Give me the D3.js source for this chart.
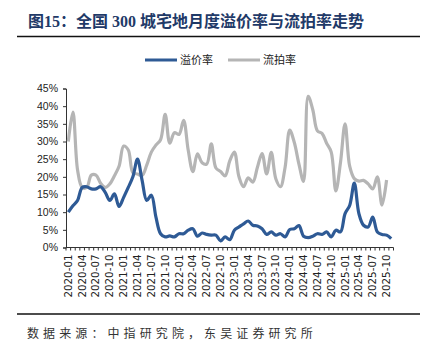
<!DOCTYPE html>
<html>
<head>
<meta charset="utf-8">
<script src="https://cdn.jsdelivr.net/npm/d3@7"></script>
<style>
  body { margin: 0; background: #fff; }
  svg { display: block; }
</style>
</head>
<body>
<svg id="chart" width="423" height="350"></svg>
<script>
// Months 2020-01 .. 2025-11
const months = [];
for (let y = 2020; y <= 2025; y++) {
  for (let m = 1; m <= 12; m++) {
    if (y === 2025 && m > 11) break;
    months.push(`${y}-${String(m).padStart(2, '0')}`);
  }
}

// 溢价率 (%)
const premiumRate = [
  10, 11.8, 13.3, 17, 17.2, 16.6, 16.6, 17.2, 15.6, 13.3, 15.2, 11.6,
  14.2, 17, 20, 25, 19, 13.3, 14.8, 8.6, 3.9, 3, 3.3, 3,
  3.9, 3.9, 4.9, 5.3, 3.2, 4.1, 3.7, 3.5, 3.5, 1.9, 3, 2.2,
  4.9, 5.8, 6.7, 7.5, 6.3, 6.1, 5.3, 3.7, 4.4, 3.5, 3.9, 3,
  5.1, 5.3, 6.2, 3.2, 2.8, 3.2, 3.9, 3.7, 4.4, 3, 4.9, 4.4,
  9.6, 11.9, 18.2, 9.6, 6.3, 5.8, 8.6, 4.4, 3.7, 3.5, 2.5
];

// 流拍率 (%), ends 2025-10
const failRate = [
  30, 38.3, 22, 17, 17, 20.5, 20.5, 18.2, 17, 18, 20.3, 23,
  28.7, 27.6, 21.2, 20.8, 20.4, 23.3, 27, 29, 30.5, 37.7, 29.5, 32.5,
  32, 36, 27.5, 21.5, 26.5, 24, 23.6, 29.3, 22.5, 21.5, 20.3, 24.5,
  27, 20, 17.2, 19.7, 18.5, 22.7, 26.6, 20.8, 26.9, 19.4, 17.2, 22.7,
  33.2, 29.7, 23.6, 18.7, 42.8, 39, 33, 32.3, 29.5, 27, 16, 24,
  35, 23, 19.5, 18.8, 19, 18, 16.6, 20, 12, 19.1
];

const yTicks = [0, 5, 10, 15, 20, 25, 30, 35, 40, 45];
const seriesNames = ['溢价率', '流拍率'];
const seriesColors = ['#2E5A95', '#B5B5B5'];

const svg = d3.select('#chart');
const margin = { top: 88.5, right: 29.5, bottom: 102.5, left: 66 };
const width = 423, height = 350;

const x = d3.scaleBand()
  .domain(months)
  .range([margin.left, width - margin.right]);

const y = d3.scaleLinear()
  .domain([0, 45])
  .range([height - margin.bottom, margin.top]);

// Title
svg.append('text')
  .attr('x', 28)
  .attr('y', 27)
  .attr('fill', '#1F3A68')
  .attr('font-family', "'Liberation Serif', 'Noto Sans CJK SC', serif")
  .attr('font-weight', 'bold')
  .attr('font-size', 16)
  .text('图15：全国 300 城宅地月度溢价率与流拍率走势');

svg.append('line')
  .attr('x1', 17).attr('x2', 420)
  .attr('y1', 36.5).attr('y2', 36.5)
  .attr('stroke', '#111').attr('stroke-width', 1.6);

// Legend
const legendX = [145, 228];
seriesNames.forEach((name, i) => {
  svg.append('line')
    .attr('x1', legendX[i]).attr('x2', legendX[i] + 32)
    .attr('y1', 60).attr('y2', 60)
    .attr('stroke', seriesColors[i]).attr('stroke-width', 3);
  svg.append('text')
    .attr('x', legendX[i] + 35)
    .attr('y', 64)
    .attr('font-family', "'Noto Sans CJK SC', sans-serif")
    .attr('font-size', 11)
    .attr('fill', '#222')
    .text(name);
});

// Y axis
const yAxis = svg.append('g')
  .attr('transform', `translate(${margin.left},0)`)
  .call(d3.axisLeft(y).tickValues(yTicks).tickSize(3).tickPadding(5).tickFormat(d => d + '%'));
yAxis.select('.domain').attr('stroke', '#333');
yAxis.selectAll('.tick line').attr('stroke', '#333');
yAxis.selectAll('text')
  .attr('font-family', "'Liberation Sans', Arial, sans-serif")
  .attr('font-size', 10.5)
  .attr('fill', '#222');

// X axis: ticks at every month boundary, labels every 3 months
const xAxisG = svg.append('g')
  .attr('transform', `translate(0,${height - margin.bottom})`);
xAxisG.append('line')
  .attr('x1', margin.left).attr('x2', width - margin.right)
  .attr('stroke', '#333');
const bounds = months.map(m => x(m)).concat([x(months[months.length - 1]) + x.bandwidth()]);
xAxisG.selectAll('.mtick')
  .data(bounds)
  .join('line')
  .attr('class', 'mtick')
  .attr('x1', d => d).attr('x2', d => d)
  .attr('y1', 0).attr('y2', 3)
  .attr('stroke', '#333');
xAxisG.selectAll('.xlab')
  .data(months.filter((m, i) => i % 3 === 0))
  .join('text')
  .attr('class', 'xlab')
  .attr('transform', d => `translate(${x(d) + x.bandwidth() / 2 + 3.5},7) rotate(-90)`)
  .attr('text-anchor', 'end')
  .attr('font-family', "'DejaVu Sans', sans-serif")
  .attr('font-size', 10.3)
  .attr('fill', '#222')
  .text(d => d);

// Lines
const line = d3.line()
  .x((d, i) => x(months[i]) + x.bandwidth() / 2)
  .y(d => y(d))
  .curve(d3.curveCatmullRom.alpha(0.5));

svg.append('path')
  .datum(failRate)
  .attr('d', line)
  .attr('fill', 'none')
  .attr('stroke', seriesColors[1])
  .attr('stroke-width', 3.2)
  .attr('stroke-linejoin', 'round');

svg.append('path')
  .datum(premiumRate)
  .attr('d', line)
  .attr('fill', 'none')
  .attr('stroke', seriesColors[0])
  .attr('stroke-width', 3.2)
  .attr('stroke-linejoin', 'round');

// Footer
svg.append('line')
  .attr('x1', 17).attr('x2', 420)
  .attr('y1', 314).attr('y2', 314)
  .attr('stroke', '#111').attr('stroke-width', 1.3);

svg.append('text')
  .attr('x', 27)
  .attr('y', 338)
  .attr('font-family', "'Noto Sans CJK SC', sans-serif")
  .attr('font-size', 12)
  .attr('letter-spacing', 4.1)
  .attr('fill', '#333')
  .text('数据来源：中指研究院，东吴证券研究所');
</script>
</body>
</html>
